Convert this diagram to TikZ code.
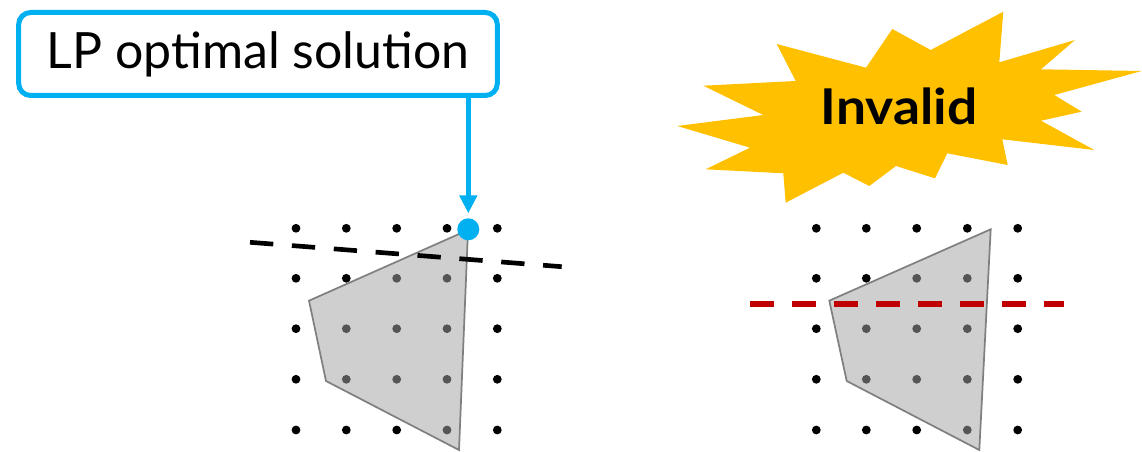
\documentclass[tikz,border=0pt]{standalone}
\usepackage{fontspec}
\setmainfont{Lato}
\usetikzlibrary{arrows.meta}
\definecolor{callblue}{HTML}{00B0F0}
\definecolor{burst}{HTML}{FFC000}
\definecolor{invred}{HTML}{C00000}
\definecolor{polyedge}{HTML}{808080}
\begin{document}
\begin{tikzpicture}[x=0.75pt,y=-0.75pt,
  dotnode/.style={circle,fill=black,inner sep=0pt,minimum size=6.6pt},
  polystyle/.style={fill=black!36,fill opacity=0.52,draw=polyedge,line width=1.3pt,line join=miter},
  cutline/.style={line width=3.5pt,dash pattern=on 17.5pt off 14pt},
  optdot/.style={circle,fill=callblue,inner sep=0pt,minimum size=16.5pt},
  callout/.style={draw=callblue,line width=3.75pt,rounded corners=9pt,fill=white,
    minimum width=359pt,minimum height=62.25pt,inner sep=0pt,font=\fontsize{37.5}{40}\selectfont},
  callarrow/.style={draw=callblue,line width=3.4pt,-{Triangle[width=12.75pt,length=13.5pt]}},
  bursttext/.style={font=\fontsize{37}{40}\selectfont\bfseries,inner sep=0pt}
]
\useasboundingbox (0,0) rectangle (1142,452);

% left grid
\foreach \xx [count=\a] in {296,346.3,396.7,447,497.3}
  \foreach \yy [count=\b] in {228.3,278.3,328.7,379.3,430}
    \node[dotnode] (L\a\b) at (\xx,\yy) {};
% right grid
\foreach \xx [count=\a] in {816.3,866.3,916.7,967.3,1017.7}
  \foreach \yy [count=\b] in {228.3,278.3,328.7,379.3,430}
    \node[dotnode] (R\a\b) at (\xx,\yy) {};

% polygons
\path[polystyle] (468,230) -- (309,300.7) -- (326,381) -- (459,450) -- cycle;
\path[polystyle] (990.7,229.3) -- (829.3,300.7) -- (846.7,381) -- (979.3,450) -- cycle;

% cutting planes
\coordinate (cutA) at (250,242.3);
\coordinate (cutB) at (561.7,266.7);
\draw[cutline,black] (cutA) -- (cutB);
\coordinate (cutC) at (750,304);
\coordinate (cutD) at (1064.3,304);
\draw[cutline,invred,line width=4pt,dash pattern=on 18pt off 13.5pt] (cutC) -- (cutD);

% LP optimum
\node[optdot] (opt) at (468.3,229.3) {};
\node[callout] (lp) at (258,54) {LP optimal solution};
\draw[callarrow,shorten >=3.5pt] (lp.south -| opt) -- (opt.north);

% starburst
\fill[burst] (1003.3,11.7) -- (999.3,62.3) -- (1075,40) -- (1041,69.3) -- (1141.7,71)
  -- (1054.3,95) -- (1081.7,111.7) -- (1041,120.7) -- (1094.3,150) -- (1002.3,139.3)
  -- (1007.7,165) -- (947.3,153.3) -- (935,178.3) -- (896,166) -- (869.3,186)
  -- (843.3,172.7) -- (785.7,202.7) -- (783.3,173.3) -- (705.7,169.3) -- (750,147.7)
  -- (677.3,126) -- (763.3,115) -- (703.3,85.7) -- (795.7,81) -- (776.7,44)
  -- (866,67.7) -- (892.3,29) -- (930.7,50) -- cycle;
\node[bursttext] (inv) at (899,106.3) {\scalebox{1.08}[1]{Invalid}};
\end{tikzpicture}
\end{document}
